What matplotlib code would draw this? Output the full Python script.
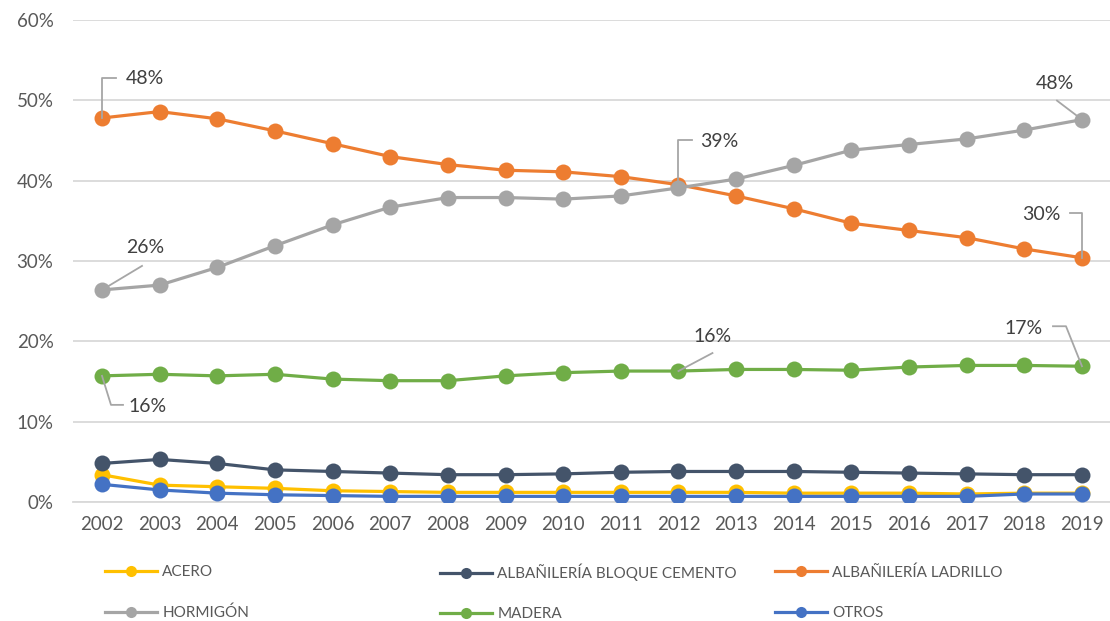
import matplotlib
matplotlib.use("Agg")
import matplotlib.pyplot as plt
import matplotlib.transforms as mtransforms
from matplotlib.lines import Line2D
from matplotlib.ticker import FuncFormatter

plt.rcParams['font.family'] = ['Lato', 'DejaVu Sans']

years = list(range(2002, 2020))

acero = [3.4, 2.1, 1.9, 1.7, 1.4, 1.3, 1.2, 1.2, 1.2, 1.2, 1.2, 1.2, 1.1, 1.1, 1.1, 1.0, 1.1, 1.1]
bloque_cemento = [4.8, 5.3, 4.8, 4.0, 3.8, 3.6, 3.4, 3.4, 3.5, 3.7, 3.8, 3.8, 3.8, 3.7, 3.6, 3.5, 3.4, 3.4]
ladrillo = [47.8, 48.6, 47.7, 46.2, 44.6, 43.0, 42.0, 41.3, 41.1, 40.5, 39.5, 38.1, 36.5, 34.7, 33.8, 32.9, 31.5, 30.4]
hormigon = [26.4, 27.0, 29.2, 31.9, 34.5, 36.7, 37.9, 37.9, 37.7, 38.1, 39.1, 40.2, 41.9, 43.8, 44.5, 45.2, 46.3, 47.6]
madera = [15.7, 15.9, 15.7, 15.9, 15.3, 15.1, 15.1, 15.7, 16.1, 16.3, 16.3, 16.5, 16.5, 16.4, 16.8, 17.0, 17.0, 16.9]
otros = [2.2, 1.5, 1.1, 0.9, 0.8, 0.7, 0.7, 0.7, 0.7, 0.7, 0.7, 0.7, 0.7, 0.7, 0.7, 0.7, 1.0, 1.0]

series_names = ["ACERO", "ALBAÑILERÍA BLOQUE CEMENTO", "ALBAÑILERÍA LADRILLO",
                "HORMIGÓN", "MADERA", "OTROS"]
series_values = [acero, bloque_cemento, ladrillo, hormigon, madera, otros]
series_colors = ["#FFC000", "#44546A", "#ED7D31", "#A5A5A5", "#70AD47", "#4472C4"]

# labelled points: (series index, year)
labelled = [(2, 2002), (3, 2002), (3, 2012), (3, 2019), (2, 2019), (4, 2012), (4, 2019), (4, 2002)]
# text offset and leader path, in pixels relative to the point
label_text_offsets = [(43, 40), (43, 42), (41, 46), (-27, 36), (-41, 43), (34, 35), (-58, 38), (46, -31)]
label_leaders = [
    [(0, 0), (0, 40), (14, 40)],
    [(0, 0), (40, 24)],
    [(0, 6), (0, 48), (14, 48)],
    [(0, 0), (-25, 19)],
    [(0, 0), (0, 45), (-12, 45)],
    [(0, 0), (34, 18)],
    [(0, 0), (-16, 40), (-29, 40)],
    [(0, 0), (9, -29), (21, -29)],
]

W, H = 1110, 621
fig = plt.figure(figsize=(W / 100, H / 100), dpi=100)
fig.patch.set_facecolor("white")
ax = fig.add_axes([73 / W, (H - 502) / H, (W - 73) / W, (502 - 20) / H])

ax.set_xlim(2001.497, 2019.486)
ax.set_ylim(0, 60)

for i, (name, vals, col) in enumerate(zip(series_names, series_values, series_colors)):
    ax.plot(years, vals, color=col, lw=2.3, marker="o", markersize=11.5,
            markeredgewidth=0, zorder=3 + i * 0.1, solid_capstyle="round")

# grid and axes
ax.set_yticks(range(0, 61, 10))
ax.set_xticks(years)
ax.yaxis.set_major_formatter(FuncFormatter(lambda v, p: f"{v:.0f}%"))
ax.grid(axis="y", color="#D9D9D9", lw=1.3, zorder=0)
ax.set_axisbelow(True)
for s in ["left", "right", "top"]:
    ax.spines[s].set_visible(False)
ax.spines["bottom"].set_color("#D9D9D9")
ax.spines["bottom"].set_linewidth(1.3)
ax.tick_params(axis="both", length=0, labelsize=13.5, labelcolor="#595959")
ax.tick_params(axis="y", pad=14)
ax.tick_params(axis="x", pad=10)

# data labels with leader lines
for (si, yr), (tx, ty), leader in zip(labelled, label_text_offsets, label_leaders):
    v = series_values[si][years.index(yr)]
    trans = fig.dpi_scale_trans + mtransforms.ScaledTranslation(yr, v, ax.transData)
    ax.plot([p[0] / 100 for p in leader], [p[1] / 100 for p in leader],
            color="#A6A6A6", lw=1.3, transform=trans, zorder=5, clip_on=False)
    ax.annotate(f"{round(v)}%", xy=(yr, v), xytext=(tx * 0.72, ty * 0.72),
                textcoords="offset points", ha="center", va="center",
                fontsize=14, color="#404040", zorder=6)

# legend: three fixed-width columns, two rows
col_x = [105, 440, 775]
for c in range(3):
    handles = []
    labels = []
    for idx in (c, c + 3):
        handles.append(Line2D([0], [0], color=series_colors[idx], lw=2.3,
                              marker="o", markersize=8, markeredgewidth=0))
        labels.append(series_names[idx])
    leg = fig.legend(handles, labels, loc="center left",
                     bbox_to_anchor=(col_x[c] / W, (H - 592.5) / H),
                     frameon=False, fontsize=11, labelcolor="#595959",
                     handlelength=3.4, handletextpad=0.35, labelspacing=1.72,
                     borderpad=0, borderaxespad=0)

fig.savefig("out.png", dpi=100, facecolor="white")
